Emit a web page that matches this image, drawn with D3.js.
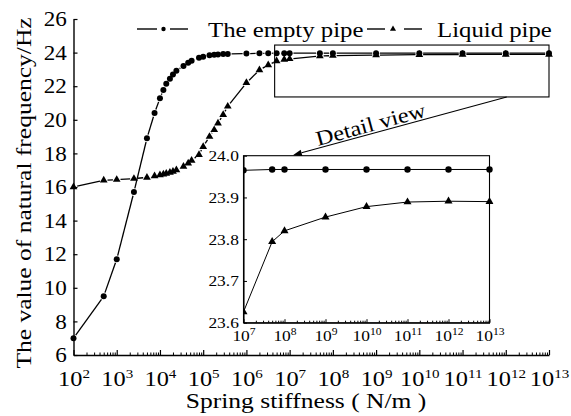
<!DOCTYPE html>
<html>
<head>
<meta charset="utf-8">
<script src="https://cdn.jsdelivr.net/npm/d3@7"></script>
<style>
  html, body { margin: 0; padding: 0; background: #fff; }
  svg { display: block; font-family: "Liberation Serif", "Times New Roman", serif; }
</style>
</head>
<body>
<svg id="chart" width="571" height="416"></svg>
<script>
// Spring stiffness (N/m) at each computed point
const stiffness = [1e2, 5e2, 1e3, 2.5e3, 5e3, 7.5e3, 1e4, 1.2e4, 1.4e4, 1.7e4, 2e4, 2.4e4,
  3.5e4, 4.5e4, 5.4e4, 8e4, 1e5, 1.4e5, 1.8e5, 2.2e5, 2.9e5, 3.7e5, 1e6, 2e6, 3.2e6,
  5e6, 7.5e6, 1e7, 5e7, 1e8, 1e9, 1e10, 1e11, 1e12, 1e13];

// Natural frequency (Hz), empty pipe
const emptyPipe = [7.0, 9.5, 11.7, 15.7, 18.9, 20.4, 21.28, 21.77, 22.15, 22.45, 22.7, 22.92,
  23.2, 23.4, 23.52, 23.7, 23.76, 23.84, 23.87, 23.89, 23.91, 23.92, 23.94, 23.955, 23.96,
  23.962, 23.964, 23.965, 23.967, 23.967, 23.967, 23.967, 23.967, 23.967, 23.967];

// Natural frequency (Hz), liquid-filled pipe
const liquidPipe = [16.0, 16.4, 16.44, 16.5, 16.57, 16.66, 16.71, 16.76, 16.81, 16.86, 16.92, 17.01,
  17.22, 17.42, 17.58, 17.92, 18.4, 19.0, 19.4, 19.8, 20.3, 20.8, 22.2, 22.96, 23.26,
  23.5, 23.59, 23.626, 23.794, 23.82, 23.853, 23.878, 23.889, 23.891, 23.89];

const seriesNames = ["The empty pipe", "Liquid pipe"];
const yTicks = [6, 8, 10, 12, 14, 16, 18, 20, 22, 24, 26];
const xTickExponents = [2, 3, 4, 5, 6, 7, 8, 9, 10, 11, 12, 13];
const insetYTicks = [23.6, 23.7, 23.8, 23.9, 24.0];
const insetXTickExponents = [7, 8, 9, 10, 11, 12, 13];
const xAxisTitle = "Spring stiffness\u00a0( N/m )";
const yAxisTitle = "The value of natural frequency/Hz";
const calloutText = "Detail view";

const svg = d3.select("#chart");
const SX = 1.16; // horizontal glyph stretch of the serif face

// ---------- main scales ----------
const x = d3.scaleLog().domain([1e2, 1e13]).range([73.5, 549]);
const y = d3.scaleLinear().domain([6, 26]).range([355, 19]);

// minor log positions between decades
function minorTicks(e0, e1) {
  const out = [];
  for (let e = e0; e < e1; e++) for (let k = 2; k <= 9; k++) out.push(k * Math.pow(10, e));
  return out;
}

function supLabels(sel, base, sup) {
  sel.selectAll(".tick text").each(function (d) {
    const t = d3.select(this);
    t.text(null);
    t.append("tspan").text("10");
    t.append("tspan").attr("dy", "-0.62em").attr("font-size", sup)
      .text(Math.round(Math.log10(d)));
  }).attr("font-size", base).attr("transform", `scale(${SX},1)`);
}

// ---------- main axes ----------
const gx = svg.append("g").attr("transform", `translate(0,${y(6)})`)
  .call(d3.axisBottom(x).tickValues(xTickExponents.map(e => Math.pow(10, e)))
    .tickSizeInner(-5).tickSizeOuter(0).tickPadding(16));
gx.attr("font-family", null).attr("font-size", null);
gx.select(".domain").attr("stroke-width", 1.4);
gx.selectAll(".tick line").attr("stroke-width", 1.2);
supLabels(gx, 21, 13);

svg.append("g").attr("transform", `translate(0,${y(6)})`)
  .call(d3.axisBottom(x).tickValues(minorTicks(2, 13)).tickFormat("")
    .tickSizeInner(-2.5).tickSizeOuter(0))
  .call(g => g.select(".domain").remove());

const gy = svg.append("g").attr("transform", `translate(${x(1e2)},0)`)
  .call(d3.axisLeft(y).tickValues(yTicks).tickSizeInner(-4).tickSizeOuter(0).tickPadding(6));
gy.attr("font-family", null).attr("font-size", null);
gy.select(".domain").attr("stroke-width", 1.4);
gy.selectAll(".tick line").attr("stroke-width", 1.2);
gy.selectAll(".tick text").attr("font-size", 21).attr("transform", `scale(${SX - 0.06},1)`);

// axis titles
svg.append("text").attr("font-size", 22).attr("text-anchor", "middle")
  .attr("transform", `translate(306,408) scale(${SX},1)`).text(xAxisTitle);
svg.append("text").attr("font-size", 22).attr("text-anchor", "middle")
  .attr("transform", `translate(31,193) rotate(-90) scale(${SX},1)`).text(yAxisTitle);

// ---------- series ----------
const mainPts = (vals) => stiffness.map((s, i) => [x(s), y(vals[i])]);

// line pieces stop short of each marker
function gapped(pts, gap) {
  const segs = [];
  for (let i = 0; i < pts.length - 1; i++) {
    const [x1, y1] = pts[i], [x2, y2] = pts[i + 1];
    const dx = x2 - x1, dy = y2 - y1, L = Math.hypot(dx, dy);
    if (L <= 2 * gap + 0.6) continue;
    const ux = dx / L, uy = dy / L;
    segs.push([x1 + ux * gap, y1 + uy * gap, x2 - ux * gap, y2 - uy * gap]);
  }
  return segs;
}

const tri = d3.symbol().type(d3.symbolTriangle);

function drawSeries(g, pts, kind, gap, r, triSize, lw) {
  g.append("g").selectAll("line").data(gap > 0 ? gapped(pts, gap) : d3.pairs(pts).map(p => [...p[0], ...p[1]]))
    .join("line")
    .attr("x1", d => d[0]).attr("y1", d => d[1]).attr("x2", d => d[2]).attr("y2", d => d[3])
    .attr("stroke", "#000").attr("stroke-width", lw);
  if (kind === "circle") {
    g.append("g").selectAll("circle").data(pts).join("circle")
      .attr("cx", d => d[0]).attr("cy", d => d[1]).attr("r", r).attr("fill", "#000");
  } else {
    g.append("g").selectAll("path").data(pts).join("path")
      .attr("d", tri.size(triSize)).attr("transform", d => `translate(${d[0]},${d[1]})`)
      .attr("fill", "#000");
  }
}

const mainG = svg.append("g");
drawSeries(mainG, mainPts(liquidPipe), "triangle", 3.8, 3, 26, 1.3);
drawSeries(mainG, mainPts(emptyPipe), "circle", 3.8, 3, 0, 1.3);

// ---------- region picked out for the detail panel ----------
const boxX0 = x(4.5e6), boxX1 = x(1e13), boxY0 = y(24.45), boxY1 = y(21.36);
svg.append("rect").attr("x", boxX0).attr("y", boxY0)
  .attr("width", boxX1 - boxX0).attr("height", boxY1 - boxY0)
  .attr("fill", "none").attr("stroke", "#000").attr("stroke-width", 1.1);

// ---------- legend ----------
const legY = 29;
const leg = svg.append("g");
[[137, 157], [170, 188]].forEach(([a, b]) =>
  leg.append("line").attr("x1", a).attr("x2", b).attr("y1", legY).attr("y2", legY)
    .attr("stroke", "#000").attr("stroke-width", 1.4));
leg.append("circle").attr("cx", 163.5).attr("cy", legY).attr("r", 2.2).attr("fill", "#000");
leg.append("text").attr("font-size", 21).attr("transform", `translate(208,37) scale(${SX + 0.02},1)`)
  .text(seriesNames[0]);
[[367, 385], [404, 422]].forEach(([a, b]) =>
  leg.append("line").attr("x1", a).attr("x2", b).attr("y1", legY).attr("y2", legY)
    .attr("stroke", "#000").attr("stroke-width", 1.4));
leg.append("path").attr("d", tri.size(16)).attr("transform", `translate(393,${legY})`).attr("fill", "#000");
leg.append("text").attr("font-size", 21).attr("transform", `translate(437,37) scale(${SX + 0.02},1)`)
  .text(seriesNames[1]);

// ---------- inset detail panel ----------
const xi = d3.scaleLog().domain([1e7, 1e13]).range([243.5, 489.5]);
const yi = d3.scaleLinear().domain([23.6, 24.0]).range([322.7, 155.7]);
const inset = svg.append("g");
inset.append("rect").attr("x", xi(1e7)).attr("y", yi(24.0))
  .attr("width", xi(1e13) - xi(1e7)).attr("height", yi(23.6) - yi(24.0))
  .attr("fill", "#fff").attr("stroke", "#000").attr("stroke-width", 1.1);

svg.append("defs").append("clipPath").attr("id", "insetClip").append("rect")
  .attr("x", xi(1e7)).attr("y", yi(24.0))
  .attr("width", xi(1e13) - xi(1e7) + 4).attr("height", yi(23.6) - yi(24.0));

const insetIdx = stiffness.map((s, i) => i).filter(i => stiffness[i] >= 1e7);
const insetPts = vals => insetIdx.map(i => [xi(stiffness[i]), yi(vals[i])]);
const insetData = inset.append("g").attr("clip-path", "url(#insetClip)");
drawSeries(insetData, insetPts(emptyPipe), "circle", 0, 3.2, 0, 1);
drawSeries(insetData, insetPts(liquidPipe), "triangle", 0, 3, 28, 1);

const gxi = inset.append("g").attr("transform", `translate(0,${yi(23.6)})`)
  .call(d3.axisBottom(xi).tickValues(insetXTickExponents.map(e => Math.pow(10, e)))
    .tickSizeInner(-3.5).tickSizeOuter(0).tickPadding(8));
gxi.attr("font-family", null).attr("font-size", null);
gxi.select(".domain").attr("stroke-width", 1.1);
supLabels(gxi, 15, 10);
inset.append("g").attr("transform", `translate(0,${yi(23.6)})`)
  .call(d3.axisBottom(xi).tickValues(minorTicks(7, 13)).tickFormat("")
    .tickSizeInner(-2).tickSizeOuter(0))
  .call(g => g.select(".domain").remove());

const gyi = inset.append("g").attr("transform", `translate(${xi(1e7)},0)`)
  .call(d3.axisLeft(yi).tickValues(insetYTicks).tickFormat(d3.format(".1f"))
    .tickSizeInner(-3.5).tickSizeOuter(0).tickPadding(4));
gyi.attr("font-family", null).attr("font-size", null);
gyi.select(".domain").attr("stroke-width", 1.1);
gyi.selectAll(".tick text").attr("font-size", 15).attr("transform", `scale(${SX},1)`);

// ---------- callout arrow ----------
const ax0 = x(1.05e12), ay0 = boxY1;
const ax1 = xi(1.6e8), ay1 = yi(24.0) - 0.5;
const ang = Math.atan2(ay1 - ay0, ax1 - ax0);
const headL = 9, headW = 3.2;
const bx = ax1 - Math.cos(ang) * headL, by = ay1 - Math.sin(ang) * headL;
svg.append("line").attr("x1", ax0).attr("y1", ay0).attr("x2", bx).attr("y2", by)
  .attr("stroke", "#000").attr("stroke-width", 1.1);
svg.append("path").attr("fill", "#000").attr("d",
  `M${ax1},${ay1} L${bx - Math.sin(ang) * headW},${by + Math.cos(ang) * headW} ` +
  `L${bx + Math.sin(ang) * headW},${by - Math.cos(ang) * headW}Z`);
const deg = ang * 180 / Math.PI + 180;
svg.append("text").attr("font-size", 21)
  .attr("transform", `translate(318,146) rotate(${deg}) scale(${SX},1)`)
  .text(calloutText);
</script>
</body>
</html>
